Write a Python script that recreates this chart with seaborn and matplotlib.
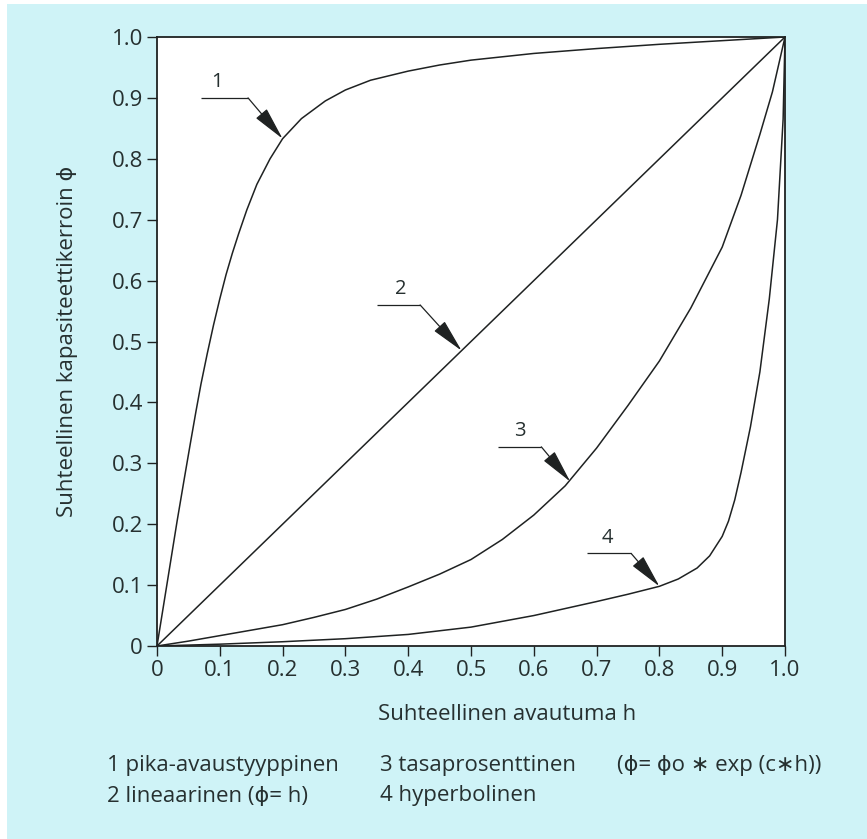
import numpy as np
import pandas as pd
import matplotlib
matplotlib.use("Agg")
import matplotlib.pyplot as plt
import seaborn as sns
from matplotlib.patches import Rectangle

# ---------------- data ----------------
# 1 pika-avaustyyppinen (quick opening)
h1 = [0.0, 0.010, 0.020, 0.032, 0.043, 0.053, 0.062, 0.070, 0.080, 0.090,
      0.100, 0.110, 0.120, 0.130, 0.143, 0.159, 0.180, 0.200, 0.230, 0.268,
      0.300, 0.340, 0.400, 0.450, 0.500, 0.600, 0.700, 0.800, 0.900, 1.0]
phi1 = [0.0, 0.064, 0.128, 0.205, 0.272, 0.332, 0.385, 0.430, 0.480, 0.527,
        0.570, 0.610, 0.645, 0.677, 0.716, 0.758, 0.800, 0.833, 0.866, 0.895,
        0.913, 0.929, 0.944, 0.954, 0.962, 0.973, 0.981, 0.988, 0.994, 1.0]
# 2 lineaarinen
h2 = [0.0, 1.0]
phi2 = [0.0, 1.0]
# 3 tasaprosenttinen (equal percentage)
h3 = [0.0, 0.05, 0.10, 0.15, 0.20, 0.25, 0.30, 0.35, 0.40, 0.45, 0.50, 0.55,
      0.60, 0.65, 0.70, 0.75, 0.80, 0.85, 0.90, 0.93, 0.96, 0.98, 1.0]
phi3 = [0.0, 0.008, 0.017, 0.026, 0.035, 0.047, 0.060, 0.077, 0.097, 0.118,
        0.142, 0.175, 0.215, 0.263, 0.325, 0.395, 0.468, 0.555, 0.655, 0.740,
        0.840, 0.910, 1.0]
# 4 hyperbolinen
h4 = [0.0, 0.10, 0.20, 0.30, 0.40, 0.50, 0.60, 0.70, 0.75, 0.80, 0.83, 0.86,
      0.88, 0.90, 0.91, 0.92, 0.93, 0.945, 0.96, 0.975, 0.988, 0.997, 1.0]
phi4 = [0.0, 0.003, 0.007, 0.012, 0.019, 0.031, 0.050, 0.073, 0.085, 0.098,
        0.110, 0.128, 0.148, 0.180, 0.205, 0.240, 0.285, 0.360, 0.450, 0.570,
        0.700, 0.865, 1.0]

curve_ids = ["1", "2", "3", "4"]
x_ticks = [0.0, 0.1, 0.2, 0.3, 0.4, 0.5, 0.6, 0.7, 0.8, 0.9, 1.0]
x_tick_labels = ["0", "0.1", "0.2", "0.3", "0.4", "0.5", "0.6", "0.7", "0.8", "0.9", "1.0"]
y_ticks = [0.0, 0.1, 0.2, 0.3, 0.4, 0.5, 0.6, 0.7, 0.8, 0.9, 1.0]
y_tick_labels = ["0", "0.1", "0.2", "0.3", "0.4", "0.5", "0.6", "0.7", "0.8", "0.9", "1.0"]

x_label = "Suhteellinen avautuma h"
y_label = "Suhteellinen kapasiteettikerroin \u03d5"
legend_col1 = ["1 pika-avaustyyppinen", "2 lineaarinen (\u03d5= h)"]
legend_col2 = ["3 tasaprosenttinen", "4 hyperbolinen"]
legend_col3 = ["(\u03d5= \u03d5o \u2217 exp (c\u2217h))"]

# ---------------- style ----------------
BG = "#cff3f7"
INK = "#1f2222"
TXT = "#263030"
FS = 16

sns.set_theme(style="white")
plt.rcParams['font.family'] = ['Open Sans', 'DejaVu Sans']

fig = plt.figure(figsize=(8.67, 8.39), dpi=100, facecolor="white")
fig.patches.append(Rectangle((7 / 867, 0), 1, 835 / 839, transform=fig.transFigure,
                             facecolor=BG, edgecolor="none", zorder=-10))

ax = fig.add_axes([157 / 867, 1 - 646 / 839, 628 / 867, 609 / 839])
ax.set_facecolor("white")

frames = []
for cid, hh, pp in zip(curve_ids, [h1, h2, h3, h4], [phi1, phi2, phi3, phi4]):
    frames.append(pd.DataFrame({"h": hh, "phi": pp, "curve": cid}))
df = pd.concat(frames, ignore_index=True)

sns.lineplot(data=df, x="h", y="phi", hue="curve",
             palette={c: INK for c in curve_ids}, estimator=None, sort=False,
             linewidth=1.1, legend=False, ax=ax)

ax.set_xlim(0, 1)
ax.set_ylim(0, 1)
ax.set_xticks(x_ticks)
ax.set_xticklabels(x_tick_labels)
ax.set_yticks(y_ticks)
ax.set_yticklabels(y_tick_labels)
ax.tick_params(axis="both", which="both", bottom=True, left=True, top=False, right=False,
               direction="out", length=7, width=1.0, color=INK,
               labelsize=FS, labelcolor=TXT)
ax.tick_params(axis="x", pad=3)
ax.tick_params(axis="y", pad=3)
for sp in ax.spines.values():
    sp.set_visible(True)
    sp.set_color(INK)
    sp.set_linewidth(1.3)

ax.set_xlabel(x_label, fontsize=FS, color=TXT, va="center")
ax.xaxis.set_label_coords(0.557, -0.113)
ax.set_ylabel(y_label, fontsize=FS, color=TXT, va="center", rotation=90)
ax.yaxis.set_label_coords(-0.142, 0.5)

# ---------------- leader annotations ----------------
annos = [
    ("1", 0.070, 0.145, 0.900, 0.095, (0.200, 0.833)),
    ("2", 0.350, 0.419, 0.560, 0.388, (0.485, 0.485)),
    ("3", 0.543, 0.612, 0.327, 0.578, (0.658, 0.270)),
    ("4", 0.684, 0.755, 0.152, 0.717, (0.800, 0.098)),
]
for lab, x0, x1, yl, xn, tip in annos:
    ax.plot([x0, x1], [yl, yl], color=INK, lw=0.9, solid_capstyle="butt")
    ax.text(xn, yl + 0.009, lab, ha="center", va="bottom", fontsize=14.5, color=TXT)
    ax.annotate("", xy=tip, xytext=(x1, yl),
                arrowprops=dict(arrowstyle="-|>,head_length=1.5,head_width=0.32",
                                mutation_scale=14, color=INK, lw=0.9,
                                shrinkA=0, shrinkB=0))

# ---------------- legend text below ----------------
for i, t in enumerate(legend_col1):
    fig.text(107 / 867, 1 - (766 + 30 * i) / 839, t, ha="left", va="center",
             fontsize=FS, color=TXT)
for i, t in enumerate(legend_col2):
    fig.text(380 / 867, 1 - (766 + 30 * i) / 839, t, ha="left", va="center",
             fontsize=FS, color=TXT)
fig.text(617 / 867, 1 - 766 / 839, legend_col3[0], ha="left", va="center",
         fontsize=FS, color=TXT)

fig.savefig("out.png", dpi=100, facecolor=fig.get_facecolor())
